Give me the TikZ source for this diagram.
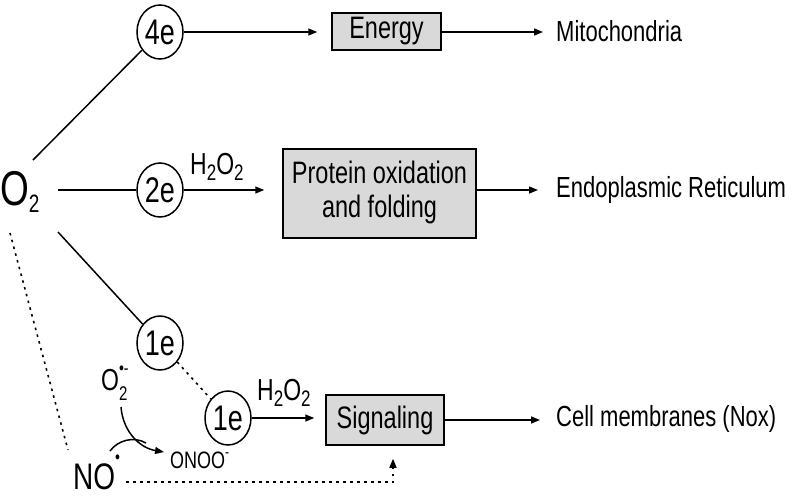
\documentclass[tikz,border=0pt]{standalone}
\usepackage{fontspec}
\usepackage{graphicx}
\setmainfont{Liberation Sans}
\usetikzlibrary{arrows.meta,shapes.geometric,calc}
\definecolor{boxgray}{HTML}{D9D9D9}
\newcommand{\vs}[1]{\scalebox{1}[1.32]{#1}}
\newcommand{\fsz}[1]{\fontsize{#1}{#1}\selectfont}
\begin{document}
\begin{tikzpicture}[x=1pt,y=-1pt,
  lw/.style={line width=1.5pt},
  arr/.style={lw,-{Triangle[length=9pt,width=7pt]}},
  dots/.style={line width=1.6pt, dash pattern=on 2.5pt off 4.5pt},
  ecirc/.style={ellipse, draw, lw, minimum width=46pt, minimum height=54pt, inner sep=0pt, font=\fsz{27}},
  gbox/.style={draw, lw, fill=boxgray, inner sep=0pt, font=\fontsize{23.5}{26}\selectfont},
  lab/.style={inner sep=0pt, font=\fsz{22}},
]
\useasboundingbox (0,0) rectangle (792,498);

% electron circles
\node[ecirc] (c4) at (160,32) {\vs{4e}};
\node[ecirc] (c2) at (160,190) {\vs{2e}};
\node[ecirc] (c1a) at (160,343) {\vs{1e}};
\node[ecirc] (c1b) at (228,418) {\vs{1e}};

% boxes
\node[gbox, minimum width=109pt, minimum height=37pt] (energy) at (386.5,31.5) {\vs{Energy}};
\node[gbox, minimum width=193pt, minimum height=89pt] (protein) at (379.5,193.5)
  {\vs{\begin{tabular}{@{}c@{}}Protein oxidation\\and folding\end{tabular}}};
\node[gbox, minimum width=118pt, minimum height=50pt] (sig) at (385,420) {\vs{Signaling}};

% right labels
\node[lab, anchor=base west] (mito) at (556,41) {\vs{Mitochondria}};
\node[lab, anchor=base west] (er) at (556,197) {\vs{Endoplasmic Reticulum}};
\node[lab, anchor=base west] (cell) at (556,426) {\vs{Cell membranes (Nox)}};

% chemical labels
\node[inner sep=0pt, anchor=base west] (o2) at (0,205)
  {\vs{\fsz{37}O\raisebox{-6pt}{\fsz{19}2}}};
\node[inner sep=0pt, anchor=base west] (h1) at (190,174)
  {\vs{\fsz{23}H\raisebox{-5pt}{\fsz{17}2}O\raisebox{-5pt}{\fsz{17}2}}};
\node[inner sep=0pt, anchor=base west] (h2) at (257,400)
  {\vs{\fsz{23}H\raisebox{-5pt}{\fsz{17}2}O\raisebox{-5pt}{\fsz{17}2}}};
\node[inner sep=0pt, anchor=base west] (sup) at (101,390)
  {\vs{\fsz{23}O\rlap{\raisebox{12pt}{\fsz{14}•-}}\raisebox{-8pt}{\fsz{15}2}}};
\node[inner sep=0pt, anchor=base west] (onoo) at (170,468)
  {\vs{\fsz{18}ONOO\raisebox{8pt}{\fsz{12}-}}};
\node[inner sep=0pt, anchor=base west] (no) at (73,489)
  {\vs{\fsz{28}NO\raisebox{19pt}{\fsz{14}•}}};

% connectors from O2
\coordinate (s4) at (33,160);
\coordinate (s2) at (58,190);
\coordinate (s1) at (58,232);
\draw[lw] (s4) -- (c4);
\draw[lw] (s2) -- (c2);
\draw[lw] (s1) -- (c1a);
\draw[dots] (c1a) -- (c1b);

% arrows to boxes and destinations
\draw[arr, shorten >=14pt] (c4) -- (c4 -| energy.west);
\draw[arr, shorten >=13pt] (energy.east |- c4) -- (c4 -| mito.west);
\draw[arr, shorten >=18pt] (c2) -- (c2 -| protein.west);
\draw[arr, shorten >=18pt] (protein.east |- c2) -- (c2 -| er.west);
\draw[arr, shorten >=11pt] (c1b) -- (c1b -| sig.west);
\draw[arr, shorten >=16pt] (sig) -- (sig -| cell.west);

% O2 to NO dotted
\coordinate (d1) at (10,233);
\coordinate (d2) at (68,450);
\draw[dots] (d1) -- (d2);

% NO dotted arrow to Signaling
\coordinate (ns) at (126,482);
\coordinate (nc) at (393,482);
\draw[dots, -{Triangle[length=9pt,width=7pt]}, shorten >=13pt] (ns) -- (nc) -- (nc |- sig.south);

% peroxynitrite formation
\coordinate (cs) at (121,407);
\coordinate (ce) at (164,452);
\draw[arr] (cs) .. controls (123,432) and (140,448) .. (ce);
\coordinate (nq) at (110,451);
\coordinate (nj) at (146,443);
\draw[lw] (nq) .. controls (118,440) and (134,436) .. (nj);
\end{tikzpicture}
\end{document}
